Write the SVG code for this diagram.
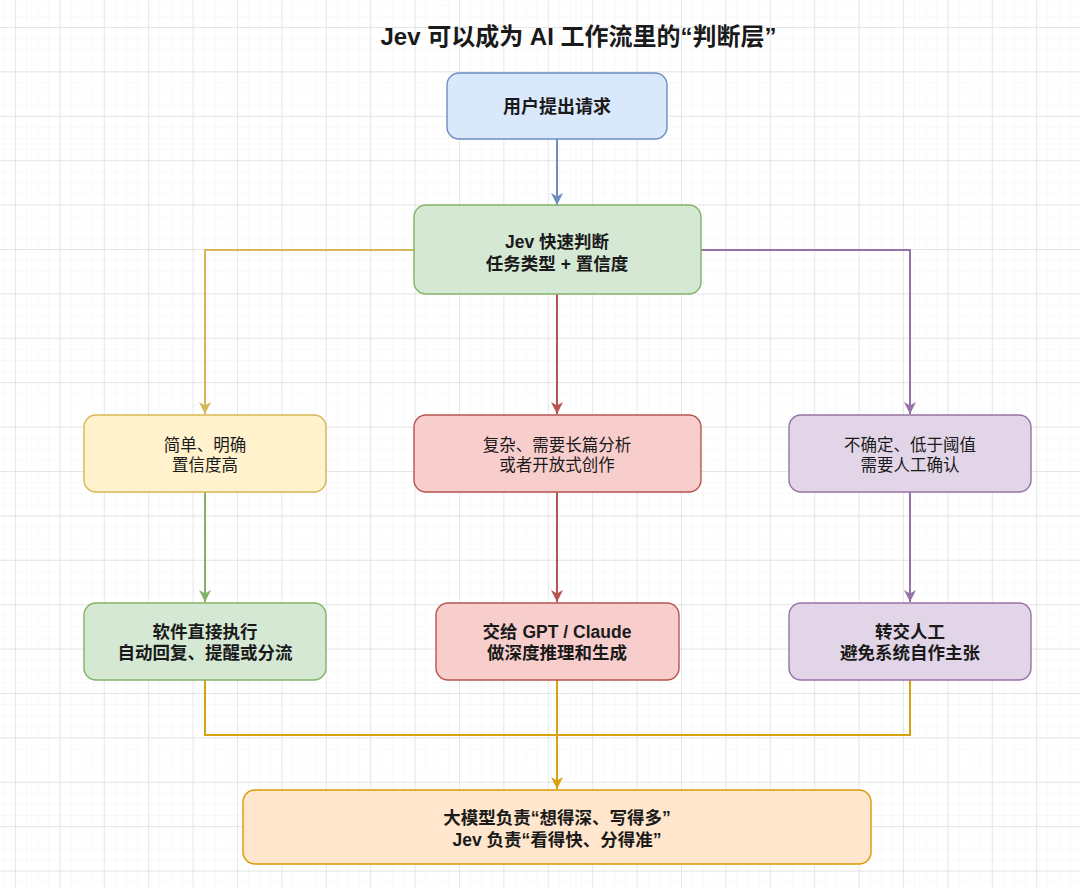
<svg xmlns="http://www.w3.org/2000/svg" width="1080" height="888" viewBox="0 0 1080 888">
  <defs>
    <pattern id="minor" width="11.1" height="11.1" patternUnits="userSpaceOnUse" x="15" y="27">
      <path d="M0 0 H11.1 M0 0 V11.1" fill="none" stroke="#f4f4f4" stroke-width="1"/>
    </pattern>
    <pattern id="major" width="44.4" height="44.4" patternUnits="userSpaceOnUse" x="15" y="27">
      <path d="M0 0 H44.4 M0 0 V44.4" fill="none" stroke="#dedede" stroke-width="1.3"/>
    </pattern>
    <marker id="aBlue" viewBox="0 0 10 10" refX="10" refY="5" markerWidth="12" markerHeight="12" markerUnits="userSpaceOnUse" orient="auto"><path d="M0 0 L10 5 L0 10 L3 5 Z" fill="#6c8ebf"/></marker>
    <marker id="aYellow" viewBox="0 0 10 10" refX="10" refY="5" markerWidth="12" markerHeight="12" markerUnits="userSpaceOnUse" orient="auto"><path d="M0 0 L10 5 L0 10 L3 5 Z" fill="#d6b656"/></marker>
    <marker id="aRed" viewBox="0 0 10 10" refX="10" refY="5" markerWidth="12" markerHeight="12" markerUnits="userSpaceOnUse" orient="auto"><path d="M0 0 L10 5 L0 10 L3 5 Z" fill="#b85450"/></marker>
    <marker id="aPurple" viewBox="0 0 10 10" refX="10" refY="5" markerWidth="12" markerHeight="12" markerUnits="userSpaceOnUse" orient="auto"><path d="M0 0 L10 5 L0 10 L3 5 Z" fill="#9673a6"/></marker>
    <marker id="aGreen" viewBox="0 0 10 10" refX="10" refY="5" markerWidth="12" markerHeight="12" markerUnits="userSpaceOnUse" orient="auto"><path d="M0 0 L10 5 L0 10 L3 5 Z" fill="#82b366"/></marker>
    <marker id="aGold" viewBox="0 0 10 10" refX="10" refY="5" markerWidth="12" markerHeight="12" markerUnits="userSpaceOnUse" orient="auto"><path d="M0 0 L10 5 L0 10 L3 5 Z" fill="#d6a20e"/></marker>
  </defs>
  <style>
    text { font-family: "Liberation Sans", "Noto Sans CJK SC", sans-serif; fill: #1a1a1a; text-anchor: middle; }
    .title { font-size: 24px; font-weight: bold; }
    .b { font-size: 17.5px; font-weight: bold; }
    .b18 { font-size: 18px; font-weight: bold; }
    .r { font-size: 16.5px; }
    .box { stroke-width: 1.4; }
    .blue { fill: #dae8fc; stroke: #6c8ebf; }
    .green { fill: #d5e8d4; stroke: #82b366; }
    .yellow { fill: #fff2cc; stroke: #d6b656; }
    .red { fill: #f8cecc; stroke: #b85450; }
    .purple { fill: #e1d5e7; stroke: #9673a6; }
    .orange { fill: #ffe6cc; stroke: #d79b00; }
    .edge { fill: none; stroke-width: 2; }
  </style>

  <rect x="0" y="0" width="1080" height="888" fill="#ffffff"/>
  <rect x="0" y="0" width="1080" height="888" fill="url(#minor)"/>
  <rect x="0" y="0" width="1080" height="888" fill="url(#major)"/>

  <text class="title" x="578.5" y="45">Jev 可以成为 AI 工作流里的“判断层”</text>

  <g id="connectors">
    <path class="edge" d="M557 139 V205" stroke="#6c8ebf" marker-end="url(#aBlue)"/>
    <path class="edge" d="M414 250 H205 V414" stroke="#d6b656" marker-end="url(#aYellow)"/>
    <path class="edge" d="M557 294 V414" stroke="#b85450" marker-end="url(#aRed)"/>
    <path class="edge" d="M701 250 H910 V414" stroke="#9673a6" marker-end="url(#aPurple)"/>
    <path class="edge" d="M205 492 V602" stroke="#82b366" marker-end="url(#aGreen)"/>
    <path class="edge" d="M557 492 V602" stroke="#b85450" marker-end="url(#aRed)"/>
    <path class="edge" d="M910 492 V602" stroke="#9673a6" marker-end="url(#aPurple)"/>
    <path class="edge" d="M205 680 V735 H910 V680" stroke="#d6a20e"/>
    <path class="edge" d="M557 680 V789" stroke="#d6a20e" marker-end="url(#aGold)"/>
  </g>

  <g id="n-request">
    <rect class="box blue" x="447" y="73" width="220" height="66" rx="12"/>
    <text class="b18" x="557" y="112.5">用户提出请求</text>
  </g>

  <g id="n-jev">
    <rect class="box green" x="414" y="205" width="287" height="89" rx="12"/>
    <text class="b" x="557" y="247.5">Jev 快速判断</text>
    <text class="b" x="557" y="269.5">任务类型 + 置信度</text>
  </g>

  <g id="n-simple">
    <rect class="box yellow" x="84" y="415" width="242" height="77" rx="12"/>
    <text class="r" x="205" y="450.5">简单、明确</text>
    <text class="r" x="205" y="471">置信度高</text>
  </g>

  <g id="n-complex">
    <rect class="box red" x="414" y="415" width="287" height="77" rx="12"/>
    <text class="r" x="557" y="450.5">复杂、需要长篇分析</text>
    <text class="r" x="557" y="471">或者开放式创作</text>
  </g>

  <g id="n-uncertain">
    <rect class="box purple" x="789" y="415" width="242" height="77" rx="12"/>
    <text class="r" x="910" y="450.5">不确定、低于阈值</text>
    <text class="r" x="910" y="471">需要人工确认</text>
  </g>

  <g id="n-software">
    <rect class="box green" x="84" y="603" width="242" height="77" rx="12"/>
    <text class="b" x="205" y="638">软件直接执行</text>
    <text class="b" x="205" y="659">自动回复、提醒或分流</text>
  </g>

  <g id="n-llm">
    <rect class="box red" x="436" y="603" width="243" height="77" rx="12"/>
    <text class="b" x="557" y="638">交给 GPT / Claude</text>
    <text class="b" x="557" y="659">做深度推理和生成</text>
  </g>

  <g id="n-human">
    <rect class="box purple" x="789" y="603" width="242" height="77" rx="12"/>
    <text class="b" x="910" y="638">转交人工</text>
    <text class="b" x="910" y="659">避免系统自作主张</text>
  </g>

  <g id="n-summary">
    <rect class="box orange" x="243" y="790" width="628" height="74" rx="12"/>
    <text class="b" x="557" y="824">大模型负责“想得深、写得多”</text>
    <text class="b" x="557" y="846">Jev 负责“看得快、分得准”</text>
  </g>
</svg>
